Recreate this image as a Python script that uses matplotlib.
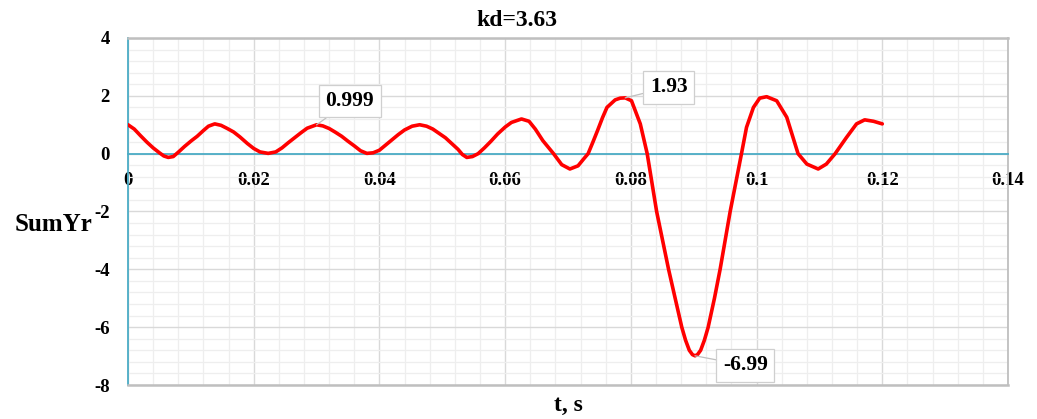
import matplotlib
matplotlib.use("Agg")
import matplotlib.pyplot as plt
from matplotlib.ticker import MultipleLocator, FixedLocator, FixedFormatter

# ---- data ----
t = [0.0, 0.001, 0.002, 0.003, 0.004, 0.005, 0.0057, 0.0064, 0.0072, 0.008,
     0.009, 0.0101, 0.011, 0.012, 0.0128, 0.0138, 0.0148, 0.0158, 0.0168, 0.0178,
     0.019, 0.020, 0.021, 0.0223, 0.0235, 0.0245, 0.0255, 0.0265, 0.0275, 0.0285,
     0.030, 0.031, 0.032, 0.033, 0.034, 0.035, 0.036, 0.037, 0.038, 0.039,
     0.040, 0.041, 0.042, 0.043, 0.044, 0.0452, 0.0464, 0.0475, 0.0485, 0.0495,
     0.0505, 0.0515, 0.0525, 0.0532, 0.0539, 0.0548, 0.0557, 0.0567, 0.0577, 0.0588,
     0.060, 0.061, 0.0626, 0.0638, 0.0648, 0.066, 0.0677, 0.069, 0.0703, 0.0716,
     0.0725, 0.0732, 0.074, 0.0747, 0.0755, 0.0762, 0.0775, 0.0783, 0.0791, 0.0801,
     0.0815, 0.0826, 0.0841, 0.086, 0.0871, 0.0881, 0.0887, 0.0893, 0.0898, 0.0902,
     0.0906, 0.0911, 0.0917, 0.0923, 0.0933, 0.0942, 0.0958, 0.0976, 0.0984, 0.0995,
     0.1005, 0.1016, 0.1032, 0.1048, 0.1058, 0.1066, 0.108, 0.1098, 0.1111, 0.1125,
     0.1143, 0.1159, 0.1172, 0.1186, 0.120]
sumyr = [1.0, 0.85, 0.62, 0.40, 0.2, 0.03, -0.08, -0.13, -0.1, 0.05,
         0.25, 0.45, 0.6, 0.8, 0.95, 1.03, 0.98, 0.87, 0.75, 0.58,
         0.35, 0.18, 0.06, 0.01, 0.06, 0.2, 0.38, 0.55, 0.72, 0.88,
         0.999, 0.96, 0.87, 0.74, 0.6, 0.43, 0.27, 0.1, 0.01, 0.03,
         0.12, 0.3, 0.48, 0.66, 0.82, 0.95, 1.0, 0.95, 0.85, 0.7,
         0.55, 0.35, 0.15, -0.03, -0.13, -0.1, 0.0, 0.2, 0.42, 0.68,
         0.92, 1.08, 1.2, 1.12, 0.85, 0.45, 0.0, -0.38, -0.53, -0.42,
         -0.18, 0.0, 0.42, 0.8, 1.25, 1.6, 1.86, 1.92, 1.93, 1.83,
         1.03, 0.0, -2.0, -4.0, -5.05, -6.0, -6.45, -6.8, -6.95, -6.99,
         -6.95, -6.8, -6.45, -6.0, -5.0, -4.0, -2.0, 0.0, 0.91, 1.6,
         1.92, 1.97, 1.83, 1.26, 0.56, 0.0, -0.36, -0.53, -0.36, 0.0,
         0.56, 1.03, 1.17, 1.12, 1.03]

x_ticks = [0.0, 0.02, 0.04, 0.06, 0.08, 0.1, 0.12, 0.14]
x_tick_labels = ["0", "0.02", "0.04", "0.06", "0.08", "0.1", "0.12", "0.14"]
y_ticks = [4, 2, 0, -2, -4, -6, -8]
y_tick_labels = ["4", "2", "0", "-2", "-4", "-6", "-8"]

ann_points = [(0.030, 0.999), (0.0791, 1.93), (0.0902, -6.99)]
ann_labels = ["0.999", "1.93", "-6.99"]
ann_text_pos = [(0.0353, 1.82), (0.086, 2.30), (0.0982, -7.32)]

title = "kd=3.63"
xlabel = "t, s"
ylabel = "SumYr"

# ---- styling ----
FONT = ["Liberation Serif", "DejaVu Serif"]
plt.rcParams["font.family"] = FONT
plt.rcParams["font.weight"] = "bold"

W, H = 1037, 419
fig = plt.figure(figsize=(W / 100, H / 100), dpi=100)
ax = fig.add_axes([128 / W, 1 - 385 / H, (1008 - 128) / W, (385 - 38) / H])

ax.set_xlim(0, 0.14)
ax.set_ylim(-8, 4)

ax.xaxis.set_major_locator(FixedLocator(x_ticks))
ax.xaxis.set_major_formatter(FixedFormatter(x_tick_labels))
ax.yaxis.set_major_locator(FixedLocator(y_ticks))
ax.yaxis.set_major_formatter(FixedFormatter(y_tick_labels))
ax.xaxis.set_minor_locator(MultipleLocator(0.004))
ax.yaxis.set_minor_locator(MultipleLocator(0.4))

ax.grid(which="major", color="#D9D9D9", linewidth=1.0, zorder=0)
ax.grid(which="minor", color="#EEEEEE", linewidth=0.9, zorder=0)
ax.set_axisbelow(True)

ax.tick_params(which="both", length=0)
ax.tick_params(axis="x", pad=13, labelsize=13.5)
ax.tick_params(axis="y", pad=13, labelsize=13.5)
for lab in ax.get_xticklabels() + ax.get_yticklabels():
    lab.set_fontweight("bold")

blue = "#4BACC6"
gray = "#BFBFBF"
ax.spines["bottom"].set_position(("data", 0))
ax.spines["bottom"].set_color(blue)
ax.spines["bottom"].set_linewidth(1.3)
ax.spines["left"].set_color(blue)
ax.spines["left"].set_linewidth(1.3)
ax.spines["top"].set_color(gray)
ax.spines["top"].set_linewidth(1.8)
ax.spines["right"].set_color(gray)
ax.spines["right"].set_linewidth(1.3)
ax.axhline(-8, color=gray, linewidth=1.8, clip_on=False, zorder=3)

ax.plot(t, sumyr, color="#FF0000", linewidth=2.6, zorder=4,
        solid_joinstyle="round", solid_capstyle="round")

for (px, py), lab, (tx, ty) in zip(ann_points, ann_labels, ann_text_pos):
    ax.annotate(lab, xy=(px, py), xytext=(tx, ty), textcoords="data",
                ha="center", va="center", fontsize=15.5, fontweight="bold",
                bbox=dict(boxstyle="square,pad=0.3", fc="white", ec="#CFCFCF", lw=0.9),
                arrowprops=dict(arrowstyle="-", color="#BFBFBF", lw=0.9,
                                shrinkA=0, shrinkB=0),
                zorder=6)

fig.text(517 / W, 1 - 20 / H, title, ha="center", va="center",
         fontsize=17, fontweight="bold")
fig.text(568 / W, 1 - 405 / H, xlabel, ha="center", va="center",
         fontsize=17, fontweight="bold")
fig.text(15 / W, 1 - 224 / H, ylabel, ha="left", va="center",
         fontsize=18, fontweight="bold")

fig.savefig("out.png", dpi=100)
